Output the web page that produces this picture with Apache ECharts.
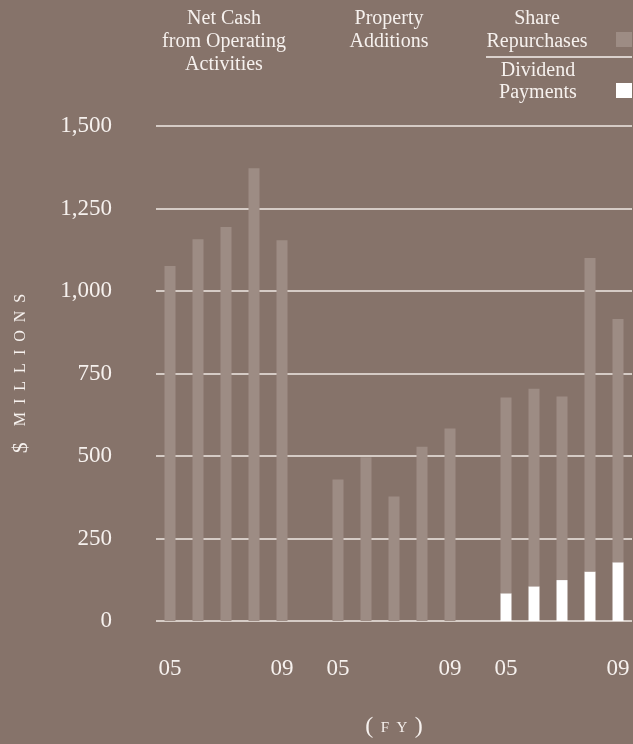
<!DOCTYPE html>
<html>
<head>
<meta charset="utf-8">
<script src="https://cdn.jsdelivr.net/npm/echarts@6/dist/echarts.min.js"></script>
<style>
  html, body { margin: 0; padding: 0; background: #86736a; }
  #chart { width: 633px; height: 744px; }
</style>
</head>
<body>
<div id="chart"></div>
<script>
// Fiscal years shown in each of the three groups
const fiscalYears = ['05', '06', '07', '08', '09'];
// $ millions
const netCashOperating = [1076, 1157, 1194, 1372, 1154];
const propertyAdditions = [429, 496, 377, 528, 583];
const dividendPayments = [84, 105, 124, 150, 178];
const shareRepurchases = [593, 599, 556, 950, 737];
// y axis ticks
const yMin = 0;
const yMax = 1500;
const yStep = 250;
// only the first and last year of each group get a label
const labelledYears = ['05', '09'];

const BG = '#86736a';
const BAR = '#9d8c84';
const INK = '#f6f1ee';
const SERIF = '"Liberation Serif", "DejaVu Serif", serif';

// three groups of five years, separated by one empty slot
const groupCount = 3;
const slotsPerGroup = fiscalYears.length + 1;
const categories = [];
for (let g = 0; g < groupCount; g++) {
  fiscalYears.forEach(y => categories.push(g + ':' + y));
  if (g < groupCount - 1) categories.push(g + ':gap');
}
function place(group, values) {
  const out = categories.map(() => '-');
  values.forEach((v, i) => { out[group * slotsPerGroup + i] = v; });
  return out;
}

const chart = echarts.init(document.getElementById('chart'), null, { renderer: 'canvas' });

const barBase = { type: 'bar', barWidth: 11, barGap: '-100%', silent: true, animation: false };

chart.setOption({
  backgroundColor: BG,
  animation: false,
  grid: { left: 156, right: 1, top: 126, bottom: 122, containLabel: false },
  xAxis: {
    type: 'category',
    data: categories,
    axisLine: { show: false },
    axisTick: { show: false },
    axisLabel: {
      interval: 0,
      margin: 36,
      color: INK,
      fontFamily: SERIF,
      fontSize: 23,
      formatter: v => {
        const y = v.split(':')[1];
        return labelledYears.includes(y) ? y : '';
      }
    },
    name: '{p|(}{s|\u2002F\u2002Y\u2002}{p|)}',
    nameLocation: 'middle',
    nameGap: 106,
    nameTextStyle: {
      verticalAlign: 'middle',
      rich: {
        p: { fontFamily: SERIF, fontSize: 24, color: INK },
        s: { fontFamily: SERIF, fontSize: 15, color: INK, padding: [3, 0, 0, 0] }
      }
    }
  },
  yAxis: {
    type: 'value',
    min: yMin,
    max: yMax,
    interval: yStep,
    axisLine: { show: false },
    axisTick: { show: false },
    splitLine: { show: true, lineStyle: { color: '#efe8e4', width: 1.5 } },
    axisLabel: {
      margin: 44,
      color: INK,
      fontFamily: SERIF,
      fontSize: 23,
      formatter: v => v.toLocaleString('en-US')
    },
    name: '{d|$}{s|\u2002\u2002M\u2002I\u2002L\u2002L\u2002I\u2002O\u2002N\u2002S}',
    nameLocation: 'middle',
    nameGap: 135,
    nameRotate: 90,
    nameTextStyle: {
      verticalAlign: 'middle',
      rich: {
        d: { fontFamily: SERIF, fontSize: 22, color: INK },
        s: { fontFamily: SERIF, fontSize: 16, color: INK }
      }
    }
  },
  series: [
    Object.assign({}, barBase, { name: 'Net Cash from Operating Activities', data: place(0, netCashOperating), itemStyle: { color: BAR } }),
    Object.assign({}, barBase, { name: 'Property Additions', data: place(1, propertyAdditions), itemStyle: { color: BAR } }),
    Object.assign({}, barBase, { name: 'Dividend Payments', stack: 'returns', data: place(2, dividendPayments), itemStyle: { color: '#ffffff' } }),
    Object.assign({}, barBase, { name: 'Share Repurchases', stack: 'returns', data: place(2, shareRepurchases), itemStyle: { color: BAR } })
  ],
  graphic: [
    { type: 'text', silent: true, style: { text: 'Net Cash\nfrom Operating\nActivities', x: 224, y: 7, align: 'center', verticalAlign: 'top', lineHeight: 23, font: '20px ' + SERIF, fill: INK } },
    { type: 'text', silent: true, style: { text: 'Property\nAdditions', x: 389, y: 7, align: 'center', verticalAlign: 'top', lineHeight: 23, font: '20px ' + SERIF, fill: INK } },
    { type: 'text', silent: true, style: { text: 'Share\nRepurchases', x: 537, y: 7, align: 'center', verticalAlign: 'top', lineHeight: 23, font: '20px ' + SERIF, fill: INK } },
    { type: 'line', silent: true, shape: { x1: 486, y1: 57, x2: 632, y2: 57 }, style: { stroke: INK, lineWidth: 1.5 } },
    { type: 'text', silent: true, style: { text: 'Dividend\nPayments', x: 538, y: 60, align: 'center', verticalAlign: 'top', lineHeight: 22, font: '20px ' + SERIF, fill: INK } },
    { type: 'rect', silent: true, shape: { x: 616, y: 32, width: 16, height: 15 }, style: { fill: BAR } },
    { type: 'rect', silent: true, shape: { x: 616, y: 83, width: 16, height: 15 }, style: { fill: '#ffffff' } }
  ]
});
</script>
</body>
</html>
